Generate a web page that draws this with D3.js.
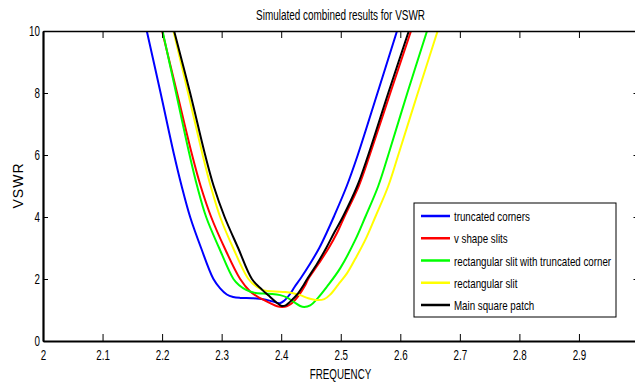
<!DOCTYPE html>
<html>
<head>
<meta charset="utf-8">
<script src="https://cdn.jsdelivr.net/npm/d3@7"></script>
<style>
  body { margin: 0; background: #fff; }
  text { font-family: "Liberation Sans", Arial, sans-serif; }
</style>
</head>
<body>
<div id="chart"></div>
<script>
// Values
const xTicks = [2, 2.1, 2.2, 2.3, 2.4, 2.5, 2.6, 2.7, 2.8, 2.9];
const yTicks = [0, 2, 4, 6, 8, 10];

const seriesNames = ["truncated corners", "v shape slits", "rectangular slit with truncated corner", "rectangular slit", "Main square patch"];
const seriesColors = ["#0000ff", "#ff0000", "#00ff00", "#ffff00", "#000000"];

const blueFreq = [2.1743, 2.1975, 2.2202, 2.2328, 2.2471, 2.2655, 2.2862, 2.2975, 2.3087, 2.3193, 2.3311, 2.3513, 2.3697, 2.3849, 2.3975, 2.405, 2.4143, 2.4227, 2.4319, 2.4487, 2.4639, 2.4765, 2.4882, 2.5101, 2.5286, 2.5617, 2.5945];
const blueVswr = [10, 8, 6, 5, 4, 3, 2, 1.7, 1.5, 1.42, 1.39, 1.38, 1.35, 1.28, 1.22, 1.3, 1.5, 1.75, 2, 2.5, 3, 3.5, 4, 5, 6, 8, 10];

const redFreq = [2.2, 2.2252, 2.2504, 2.2647, 2.2824, 2.305, 2.3311, 2.3479, 2.3647, 2.3815, 2.3933, 2.4017, 2.4092, 2.4168, 2.4286, 2.4403, 2.4454, 2.463, 2.4798, 2.4941, 2.5059, 2.5303, 2.5487, 2.5832, 2.618];
const redVswr = [10, 8, 6, 5, 4, 3, 2, 1.6, 1.38, 1.22, 1.12, 1.1, 1.12, 1.2, 1.45, 1.8, 2, 2.5, 3, 3.5, 4, 5, 6, 8, 10];

const greenFreq = [2.2008, 2.2235, 2.2462, 2.2588, 2.274, 2.2958, 2.3198, 2.3294, 2.3412, 2.3546, 2.3697, 2.3849, 2.3983, 2.4101, 2.4218, 2.4319, 2.4387, 2.4487, 2.4622, 2.4768, 2.4992, 2.5244, 2.5412, 2.563, 2.5798, 2.6118, 2.6449];
const greenVswr = [10, 8, 6, 5, 4, 3, 2, 1.8, 1.65, 1.56, 1.53, 1.52, 1.48, 1.4, 1.25, 1.13, 1.1, 1.15, 1.4, 1.75, 2.35, 3.26, 4, 5, 6, 8, 10];

const yellowFreq = [2.219, 2.2437, 2.2681, 2.2815, 2.2975, 2.3193, 2.345, 2.3588, 2.3714, 2.3899, 2.4067, 2.4185, 2.4319, 2.4454, 2.46, 2.4723, 2.4824, 2.4958, 2.5104, 2.5244, 2.5412, 2.558, 2.5798, 2.5966, 2.6294, 2.6627];
const yellowVswr = [10, 8, 6, 5, 4, 3, 2, 1.75, 1.63, 1.6, 1.58, 1.55, 1.48, 1.38, 1.32, 1.35, 1.5, 1.82, 2.18, 2.65, 3.26, 4, 5, 6, 8, 10];

const blackFreq = [2.2202, 2.2471, 2.2723, 2.2866, 2.305, 2.3277, 2.3508, 2.3681, 2.3815, 2.3916, 2.4008, 2.4076, 2.4151, 2.4269, 2.4375, 2.4437, 2.4605, 2.4756, 2.4891, 2.5034, 2.5277, 2.5462, 2.5798, 2.6143];
const blackVswr = [10, 8, 6, 5, 4, 3, 2, 1.65, 1.42, 1.25, 1.13, 1.15, 1.27, 1.5, 1.8, 2, 2.5, 3, 3.5, 4, 5, 6, 8, 10];

const seriesFreq = [blueFreq, redFreq, greenFreq, yellowFreq, blackFreq];
const seriesVswr = [blueVswr, redVswr, greenVswr, yellowVswr, blackVswr];

const series = seriesNames.map((name, i) => ({
  name: name,
  color: seriesColors[i],
  points: seriesFreq[i].map((f, j) => ({f: f, v: seriesVswr[i][j]}))
}));

// Layout
const margin = {top: 31, left: 43},
      width = 595.5,
      height = 310;
const sx = 0.7; // text in the reference is horizontally squeezed

const svg = d3.select("#chart")
  .append("svg")
    .attr("width", 635)
    .attr("height", 385)
    .style("display", "block");

svg.append("rect").attr("width", 635).attr("height", 385).attr("fill", "#fff");

const g = svg.append("g")
    .attr("transform", `translate(${margin.left},${margin.top})`);

const x = d3.scaleLinear().domain([2, 3]).range([0, width]);
const y = d3.scaleLinear().domain([0, 10]).range([height, 0]);

// Curves (clipped to the axes box)
svg.append("defs").append("clipPath").attr("id", "plotclip")
  .append("rect").attr("width", width).attr("height", height);

const line = d3.line()
  .x(d => x(d.f))
  .y(d => y(d.v))
  .curve(d3.curveCatmullRom.alpha(0.5));

g.append("g")
    .attr("clip-path", "url(#plotclip)")
  .selectAll("path")
  .data(series)
  .enter()
  .append("path")
    .attr("d", d => line(d.points))
    .attr("fill", "none")
    .attr("stroke", d => d.color)
    .attr("stroke-width", 2)
    .attr("stroke-linejoin", "round");

// Axes: ticks point inward, box on
const xAxis = g.append("g")
  .attr("transform", `translate(0,${height})`)
  .call(d3.axisBottom(x).tickValues(xTicks).tickFormat(d => d).tickSizeInner(-7).tickSizeOuter(0).tickPadding(9));

g.append("g")
  .call(d3.axisTop(x).tickValues(xTicks).tickFormat("").tickSizeInner(-7).tickSizeOuter(0));

const yAxis = g.append("g")
  .call(d3.axisLeft(y).tickValues(yTicks).tickFormat(d => d).tickSizeInner(-5).tickSizeOuter(0).tickPadding(3));

g.append("g")
  .attr("transform", `translate(${width},0)`)
  .call(d3.axisRight(y).tickValues(yTicks).tickFormat("").tickSizeInner(-5).tickSizeOuter(0));

g.selectAll(".domain").attr("stroke", "#000").attr("stroke-width", 1.5);
g.selectAll(".tick line").attr("stroke", "#000").attr("stroke-width", 1);

xAxis.select(".domain").attr("stroke-width", 2.2);
yAxis.select(".domain").attr("stroke-width", 2.2);

xAxis.selectAll("text")
  .style("font-size", "14px")
  .attr("fill", "#000")
  .attr("transform", `scale(${sx},1)`);

yAxis.selectAll("text")
  .style("font-size", "14px")
  .attr("fill", "#000")
  .attr("x", -3 / sx)
  .attr("transform", `scale(${sx},1)`);

// Title
svg.append("text")
  .attr("transform", `translate(340.5,19.5) scale(0.71,1)`)
  .attr("text-anchor", "middle")
  .style("font-size", "14px")
  .text("Simulated combined results for VSWR");

// X-axis label
svg.append("text")
  .attr("transform", `translate(340.5,379) scale(${sx},1)`)
  .attr("text-anchor", "middle")
  .style("font-size", "14px")
  .text("FREQUENCY");

// Y-axis label
svg.append("text")
  .attr("transform", "translate(23,185.5) rotate(-90)")
  .attr("text-anchor", "middle")
  .style("font-size", "14px")
  .style("letter-spacing", "1px")
  .text("VSWR");

// Legend
const legend = svg.append("g").attr("transform", "translate(414,203)");

legend.append("rect")
  .attr("width", 202)
  .attr("height", 114)
  .attr("fill", "#fff")
  .attr("stroke", "#000")
  .attr("stroke-width", 1);

const rowY = d3.scalePoint().domain(seriesNames).range([13, 102]);

const rows = legend.selectAll(".row")
  .data(series)
  .enter()
  .append("g")
    .attr("class", "row")
    .attr("transform", d => `translate(0,${rowY(d.name)})`);

rows.append("line")
  .attr("x1", 7).attr("x2", 36)
  .attr("stroke", d => d.color)
  .attr("stroke-width", 2.5);

rows.append("text")
  .attr("transform", "translate(40,5) scale(0.75,1)")
  .style("font-size", "13px")
  .text(d => d.name);
</script>
</body>
</html>
